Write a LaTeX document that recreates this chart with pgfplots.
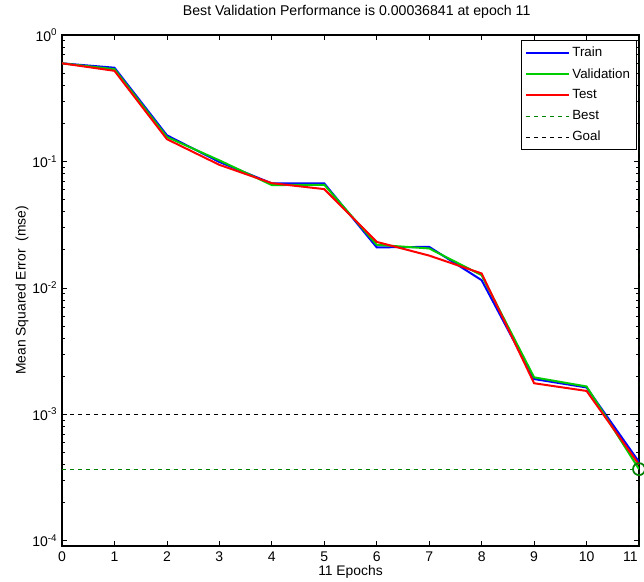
\documentclass[border=0pt]{standalone}
\usepackage{fontspec}
\setmainfont{Liberation Sans}
\usepackage{pgfplots}
\pgfplotsset{compat=1.18}
\usepackage{pgfplotstable}
\definecolor{mgreen}{rgb}{0,0.8,0}
\definecolor{dgreen}{rgb}{0,0.5,0}
\pgfplotstableread{
ep train val test
0 0.597 0.597 0.597
1 0.551 0.537 0.521
2 0.161 0.156 0.150
3 0.099 0.102 0.094
4 0.067 0.065 0.0673
5 0.067 0.0654 0.0604
6 0.0209 0.0219 0.0231
7 0.0211 0.0205 0.0180
8 0.0115 0.0126 0.0130
9 0.0019 0.00196 0.00176
10 0.00163 0.00166 0.00153
11 0.00042 0.00036841 0.00040
}\perf
\begin{document}
\begin{tikzpicture}
\begin{axis}[
  name=ax,
  scale only axis,
  width=432.75pt, height=383.25pt,
  xmin=0, xmax=11,
  ymode=log, ymin=9.08e-5, ymax=1,
  xtick={0,1,...,11},
  xticklabels={0,1,2,3,4,5,6,7,8,9,10,\makebox[0pt][r]{11\hspace{1pt}}},
  ytick={1e-4,1e-3,1e-2,1e-1,1},
  yticklabels={10\textsuperscript{-4},10\textsuperscript{-3},10\textsuperscript{-2},10\textsuperscript{-1},10\textsuperscript{0}},
  /pgf/number format/assume math mode=true,
  tick align=inside,
  major tick length=3.75pt,
  minor tick length=2.2pt,
  tick style={black, line width=0.5pt},
  axis line style={line width=0.9pt},
  every tick label/.append style={font=\fontsize{10.5}{12}\selectfont},
  xticklabel style={yshift=-1pt},
  title={Best Validation Performance is 0.00036841 at epoch 11},
  title style={font=\fontsize{10.6}{12}\selectfont, at={(rel axis cs:0.5107,1)}, anchor=base, yshift=8.8pt},
  xlabel={11 Epochs},
  xlabel style={font=\fontsize{10.4}{12}\selectfont, yshift=4pt},
  ylabel={Mean Squared Error\ \ (mse)},
  ylabel style={font=\fontsize{10.4}{12}\selectfont, yshift=-4pt},
  legend style={at={(rel axis cs:0.9965,0.99)}, anchor=north east, draw=black, line width=0.6pt,
    font=\fontsize{10}{12}\selectfont, row sep=3.2pt, inner sep=3pt,
    cells={anchor=west}},
  legend image code/.code={\draw[#1] (0pt,0pt) -- (32pt,0pt);},
]
\addplot[blue, line width=1.5pt] table[x=ep, y=train] {\perf};
\addlegendentry{Train}
\addplot[mgreen, line width=1.5pt] table[x=ep, y=val] {\perf};
\addlegendentry{Validation}
\addplot[red, line width=1.5pt] table[x=ep, y=test] {\perf};
\addlegendentry{Test}
\addplot[dgreen, dashed, line width=0.6pt] coordinates {(0,0.00036841) (11,0.00036841)};
\addlegendentry{Best}
\addplot[black, dashed, line width=0.6pt] coordinates {(0,0.001) (11,0.001)};
\addlegendentry{Goal}
\addplot[dgreen, dashed, line width=0.6pt, forget plot] coordinates {(11,9.08e-5) (11,1)};
\addplot[dgreen, only marks, mark=o, mark size=4.5pt, line width=1.3pt, forget plot] coordinates {(11,0.00036841)};
\end{axis}
\pgfresetboundingbox
\path[use as bounding box] ([xshift=-46.5pt,yshift=-26.6pt]ax.south west) rectangle ([xshift=3.75pt,yshift=26.25pt]ax.north east);
\end{tikzpicture}
\end{document}
